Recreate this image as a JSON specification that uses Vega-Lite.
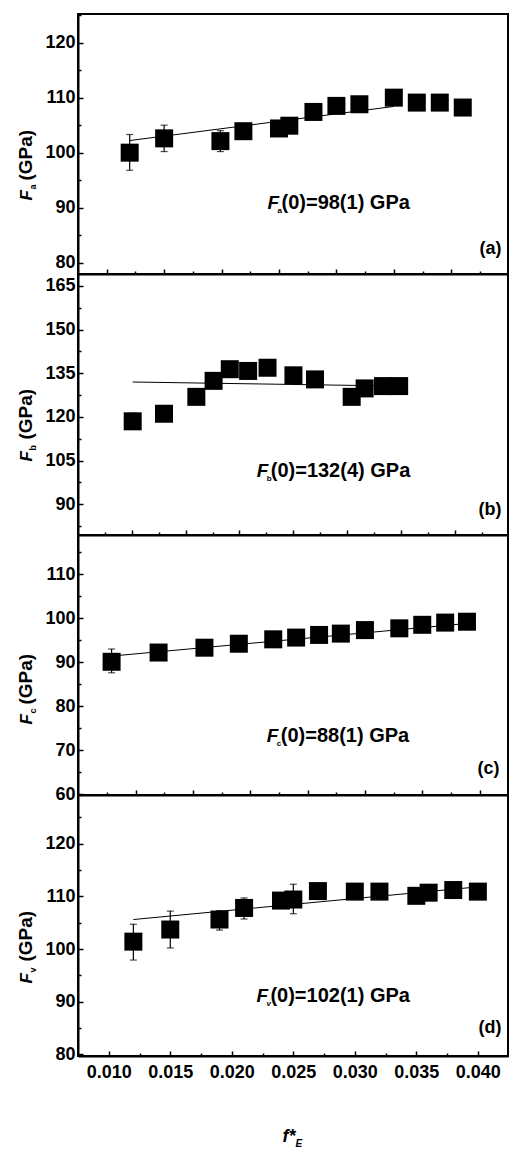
{
  "$schema": "https://vega.github.io/schema/vega-lite/v6.json",
  "padding": {"left": 15, "top": 13, "right": 0, "bottom": 0},
  "config": {
    "view": {"stroke": "black", "strokeWidth": 2},
    "font": "Liberation Sans",
    "axis": {"grid": false, "domainColor": "black", "domainWidth": 2, "tickColor": "black", "tickWidth": 1.5, "labelFont": "Liberation Sans", "labelFontWeight": "bold", "labelFontSize": 18, "labelColor": "black", "titleFont": "Liberation Sans", "titleFontWeight": "bold", "titleColor": "black"}
  },
  "datasets": {
    "pts": [
      {"p": "a", "x": 0.0120, "y": 100.0, "lo": 96.8, "hi": 103.3},
      {"p": "a", "x": 0.0150, "y": 102.6, "lo": 100.2, "hi": 105.0},
      {"p": "a", "x": 0.0199, "y": 102.1, "lo": 100.2, "hi": 104.0},
      {"p": "a", "x": 0.0219, "y": 103.9},
      {"p": "a", "x": 0.0250, "y": 104.4},
      {"p": "a", "x": 0.0259, "y": 104.9},
      {"p": "a", "x": 0.0280, "y": 107.4},
      {"p": "a", "x": 0.0300, "y": 108.5},
      {"p": "a", "x": 0.0320, "y": 108.8},
      {"p": "a", "x": 0.0350, "y": 110.0},
      {"p": "a", "x": 0.0370, "y": 109.1},
      {"p": "a", "x": 0.0390, "y": 109.1},
      {"p": "a", "x": 0.0410, "y": 108.2},
      {"p": "b", "x": 0.0101, "y": 118.5, "lo": 115.7, "hi": 121.3},
      {"p": "b", "x": 0.0130, "y": 121.1},
      {"p": "b", "x": 0.0160, "y": 126.9},
      {"p": "b", "x": 0.0176, "y": 132.4},
      {"p": "b", "x": 0.0191, "y": 136.4},
      {"p": "b", "x": 0.0208, "y": 135.8},
      {"p": "b", "x": 0.0226, "y": 136.9},
      {"p": "b", "x": 0.0250, "y": 134.3},
      {"p": "b", "x": 0.0270, "y": 132.9},
      {"p": "b", "x": 0.0304, "y": 126.9},
      {"p": "b", "x": 0.0316, "y": 129.8},
      {"p": "b", "x": 0.0333, "y": 130.6},
      {"p": "b", "x": 0.0348, "y": 130.6},
      {"p": "c", "x": 0.0079, "y": 90.1, "lo": 87.6, "hi": 93.0},
      {"p": "c", "x": 0.0120, "y": 92.2},
      {"p": "c", "x": 0.0160, "y": 93.3},
      {"p": "c", "x": 0.0190, "y": 94.2},
      {"p": "c", "x": 0.0220, "y": 95.2},
      {"p": "c", "x": 0.0240, "y": 95.6},
      {"p": "c", "x": 0.0260, "y": 96.2},
      {"p": "c", "x": 0.0279, "y": 96.5},
      {"p": "c", "x": 0.0300, "y": 97.3},
      {"p": "c", "x": 0.0330, "y": 97.7},
      {"p": "c", "x": 0.0350, "y": 98.5},
      {"p": "c", "x": 0.0370, "y": 99.0},
      {"p": "c", "x": 0.0389, "y": 99.2},
      {"p": "d", "x": 0.0120, "y": 101.4, "lo": 97.9, "hi": 104.7},
      {"p": "d", "x": 0.0150, "y": 103.7, "lo": 100.2, "hi": 107.2},
      {"p": "d", "x": 0.0190, "y": 105.6, "lo": 103.6, "hi": 107.3},
      {"p": "d", "x": 0.0210, "y": 107.8, "lo": 105.7, "hi": 109.7},
      {"p": "d", "x": 0.0240, "y": 109.2},
      {"p": "d", "x": 0.0250, "y": 109.4, "lo": 106.7, "hi": 112.3},
      {"p": "d", "x": 0.0270, "y": 111.0},
      {"p": "d", "x": 0.0300, "y": 110.9},
      {"p": "d", "x": 0.0320, "y": 110.9},
      {"p": "d", "x": 0.0350, "y": 110.1},
      {"p": "d", "x": 0.0360, "y": 110.7},
      {"p": "d", "x": 0.0380, "y": 111.2},
      {"p": "d", "x": 0.0400, "y": 110.9}
    ],
    "fit": [
      {"p": "a", "x": 0.0120, "y": 102.2},
      {"p": "a", "x": 0.0350, "y": 108.4},
      {"p": "b", "x": 0.0101, "y": 132.0},
      {"p": "b", "x": 0.0348, "y": 130.6},
      {"p": "c", "x": 0.0079, "y": 91.4},
      {"p": "c", "x": 0.0389, "y": 98.8},
      {"p": "d", "x": 0.0120, "y": 105.6},
      {"p": "d", "x": 0.0400, "y": 111.8}
    ],
    "notes": [
      {"p": "a", "sub": "a", "main": "(0)=98(1) GPa", "tag": "(a)"},
      {"p": "b", "sub": "b", "main": "(0)=132(4) GPa", "tag": "(b)"},
      {"p": "c", "sub": "c", "main": "(0)=88(1) GPa", "tag": "(c)"},
      {"p": "d", "sub": "v", "main": "(0)=102(1) GPa", "tag": "(d)"}
    ]
  },
  "spacing": 0,
  "bounds": "flush",
  "vconcat": [
    {
      "width": 430, "height": 260,
      "resolve": {"axis": {"x": "independent", "y": "independent"}},
      "layer": [
        {"data": {"name": "fit"}, "transform": [{"filter": "datum.p == 'a'"}],
         "mark": {"type": "line", "color": "black", "strokeWidth": 1},
         "encoding": {"x": {"field": "x", "type": "quantitative", "axis": null},
           "y": {"field": "y", "type": "quantitative", "axis": {"orient": "left", "title": "F", "titleFontStyle": "italic", "titleFontSize": 17, "titleAngle": 270, "titleAlign": "left", "titleBaseline": "alphabetic", "titleX": -47, "titleY": 186, "labels": false, "ticks": false, "domain": false}}}},
        {"data": {"name": "pts"}, "transform": [{"filter": "datum.p == 'a' && isValid(datum.lo)"}],
         "mark": {"type": "rule", "color": "black", "strokeWidth": 1.2},
         "encoding": {"x": {"field": "x", "type": "quantitative", "axis": null},
           "y": {"field": "lo", "type": "quantitative", "axis": {"orient": "left", "title": "a", "titleFontSize": 9, "titleAngle": 270, "titleAlign": "left", "titleBaseline": "alphabetic", "titleX": -43, "titleY": 175, "labels": false, "ticks": false, "domain": false}},
           "y2": {"field": "hi"}}},
        {"data": {"name": "pts"}, "transform": [{"filter": "datum.p == 'a' && isValid(datum.lo)"}],
         "mark": {"type": "tick", "orient": "horizontal", "color": "black", "size": 7, "thickness": 1.2},
         "encoding": {"x": {"field": "x", "type": "quantitative", "axis": null}, "y": {"field": "hi", "type": "quantitative", "axis": null}}},
        {"data": {"name": "pts"}, "transform": [{"filter": "datum.p == 'a' && isValid(datum.lo)"}],
         "mark": {"type": "tick", "orient": "horizontal", "color": "black", "size": 7, "thickness": 1.2},
         "encoding": {"x": {"field": "x", "type": "quantitative", "axis": null}, "y": {"field": "lo", "type": "quantitative", "axis": null}}},
        {"data": {"name": "pts"}, "transform": [{"filter": "datum.p == 'a'"}],
         "mark": {"type": "point", "shape": "square", "filled": true, "color": "black", "size": 324, "opacity": 1},
         "encoding": {
           "x": {"field": "x", "type": "quantitative", "scale": {"domain": [0.0075, 0.04494], "nice": false, "zero": false},
             "axis": {"orient": "bottom", "title": null, "labels": false, "values": [0.01,0.0125,0.015,0.0175,0.02,0.0225,0.025,0.0275,0.03,0.0325,0.035,0.0375,0.04,0.0425],
               "tickSize": {"condition": {"test": "abs(datum.value*200 - round(datum.value*200)) < 0.01", "value": -5}, "value": -3}}},
           "y": {"field": "y", "type": "quantitative", "scale": {"domain": [77.95, 125.2], "nice": false, "zero": false},
             "axis": {"orient": "left", "values": [80,85,90,95,100,105,110,115,120,125], "labelExpr": "datum.value % 10 == 0 ? datum.label : ''",
               "tickSize": {"condition": {"test": "datum.value % 10 == 0", "value": -5}, "value": -3}, "labelPadding": 8,
               "title": "(GPa)", "titleFontSize": 19, "titleAngle": 270, "titleAlign": "left", "titleBaseline": "alphabetic", "titleX": -47, "titleY": 166}}}},
        {"data": {"name": "notes"}, "transform": [{"filter": "datum.p == 'a'"}],
         "mark": {"type": "text", "align": "left", "baseline": "alphabetic", "fontSize": 19, "fontWeight": "bold", "fontStyle": "italic", "color": "black"},
         "encoding": {"x": {"datum": 0.0240, "type": "quantitative", "axis": null}, "y": {"datum": 89.7, "type": "quantitative", "axis": null}, "text": {"value": "F"}}},
        {"data": {"name": "notes"}, "transform": [{"filter": "datum.p == 'a'"}],
         "mark": {"type": "text", "align": "left", "baseline": "alphabetic", "fontSize": 8, "fontWeight": "bold", "dx": 10, "dy": 4, "color": "black"},
         "encoding": {"x": {"datum": 0.0240, "type": "quantitative", "axis": null}, "y": {"datum": 89.7, "type": "quantitative", "axis": null}, "text": {"field": "sub"}}},
        {"data": {"name": "notes"}, "transform": [{"filter": "datum.p == 'a'"}],
         "mark": {"type": "text", "align": "left", "baseline": "alphabetic", "fontSize": 20, "fontWeight": "bold", "dx": 14, "color": "black"},
         "encoding": {"x": {"datum": 0.0240, "type": "quantitative", "axis": null}, "y": {"datum": 89.7, "type": "quantitative", "axis": null}, "text": {"field": "main"}}},
        {"data": {"name": "notes"}, "transform": [{"filter": "datum.p == 'a'"}],
         "mark": {"type": "text", "align": "right", "baseline": "middle", "fontSize": 18, "fontWeight": "bold", "color": "black"},
         "encoding": {"x": {"datum": 0.04437, "type": "quantitative", "axis": null}, "y": {"datum": 82.5, "type": "quantitative", "axis": null}, "text": {"field": "tag"}}}
      ]
    },
    {
      "width": 430, "height": 261,
      "resolve": {"axis": {"x": "independent", "y": "independent"}},
      "layer": [
        {"data": {"name": "fit"}, "transform": [{"filter": "datum.p == 'b'"}],
         "mark": {"type": "line", "color": "black", "strokeWidth": 1},
         "encoding": {"x": {"field": "x", "type": "quantitative", "axis": null},
           "y": {"field": "y", "type": "quantitative", "axis": {"orient": "left", "title": "F", "titleFontStyle": "italic", "titleFontSize": 17, "titleAngle": 270, "titleAlign": "left", "titleBaseline": "alphabetic", "titleX": -47, "titleY": 187, "labels": false, "ticks": false, "domain": false}}}},
        {"data": {"name": "pts"}, "transform": [{"filter": "datum.p == 'b' && isValid(datum.lo)"}],
         "mark": {"type": "rule", "color": "black", "strokeWidth": 1.2},
         "encoding": {"x": {"field": "x", "type": "quantitative", "axis": null},
           "y": {"field": "lo", "type": "quantitative", "axis": {"orient": "left", "title": "b", "titleFontSize": 9, "titleAngle": 270, "titleAlign": "left", "titleBaseline": "alphabetic", "titleX": -43, "titleY": 176, "labels": false, "ticks": false, "domain": false}},
           "y2": {"field": "hi"}}},
        {"data": {"name": "pts"}, "transform": [{"filter": "datum.p == 'b' && isValid(datum.lo)"}],
         "mark": {"type": "tick", "orient": "horizontal", "color": "black", "size": 7, "thickness": 1.2},
         "encoding": {"x": {"field": "x", "type": "quantitative", "axis": null}, "y": {"field": "hi", "type": "quantitative", "axis": null}}},
        {"data": {"name": "pts"}, "transform": [{"filter": "datum.p == 'b' && isValid(datum.lo)"}],
         "mark": {"type": "tick", "orient": "horizontal", "color": "black", "size": 7, "thickness": 1.2},
         "encoding": {"x": {"field": "x", "type": "quantitative", "axis": null}, "y": {"field": "lo", "type": "quantitative", "axis": null}}},
        {"data": {"name": "pts"}, "transform": [{"filter": "datum.p == 'b'"}],
         "mark": {"type": "point", "shape": "square", "filled": true, "color": "black", "size": 324, "opacity": 1},
         "encoding": {
           "x": {"field": "x", "type": "quantitative", "scale": {"domain": [0.00503, 0.04489], "nice": false, "zero": false},
             "axis": {"orient": "bottom", "title": null, "labels": false, "values": [0.0075,0.01,0.0125,0.015,0.0175,0.02,0.0225,0.025,0.0275,0.03,0.0325,0.035,0.0375,0.04,0.0425],
               "tickSize": {"condition": {"test": "abs(datum.value*200 - round(datum.value*200)) < 0.01", "value": -5}, "value": -3}}},
           "y": {"field": "y", "type": "quantitative", "scale": {"domain": [79.45, 169.1], "nice": false, "zero": false},
             "axis": {"orient": "left", "values": [82.5,90,97.5,105,112.5,120,127.5,135,142.5,150,157.5,165], "labelExpr": "datum.value % 15 == 0 ? datum.label : ''",
               "tickSize": {"condition": {"test": "datum.value % 15 == 0", "value": -5}, "value": -3}, "labelPadding": 8,
               "title": "(GPa)", "titleFontSize": 19, "titleAngle": 270, "titleAlign": "left", "titleBaseline": "alphabetic", "titleX": -47, "titleY": 165}}}},
        {"data": {"name": "notes"}, "transform": [{"filter": "datum.p == 'b'"}],
         "mark": {"type": "text", "align": "left", "baseline": "alphabetic", "fontSize": 19, "fontWeight": "bold", "fontStyle": "italic", "color": "black"},
         "encoding": {"x": {"datum": 0.0216, "type": "quantitative", "axis": null}, "y": {"datum": 99.4, "type": "quantitative", "axis": null}, "text": {"value": "F"}}},
        {"data": {"name": "notes"}, "transform": [{"filter": "datum.p == 'b'"}],
         "mark": {"type": "text", "align": "left", "baseline": "alphabetic", "fontSize": 8, "fontWeight": "bold", "dx": 10, "dy": 4, "color": "black"},
         "encoding": {"x": {"datum": 0.0216, "type": "quantitative", "axis": null}, "y": {"datum": 99.4, "type": "quantitative", "axis": null}, "text": {"field": "sub"}}},
        {"data": {"name": "notes"}, "transform": [{"filter": "datum.p == 'b'"}],
         "mark": {"type": "text", "align": "left", "baseline": "alphabetic", "fontSize": 20, "fontWeight": "bold", "dx": 14, "color": "black"},
         "encoding": {"x": {"datum": 0.0216, "type": "quantitative", "axis": null}, "y": {"datum": 99.4, "type": "quantitative", "axis": null}, "text": {"field": "main"}}},
        {"data": {"name": "notes"}, "transform": [{"filter": "datum.p == 'b'"}],
         "mark": {"type": "text", "align": "right", "baseline": "middle", "fontSize": 18, "fontWeight": "bold", "color": "black"},
         "encoding": {"x": {"datum": 0.04429, "type": "quantitative", "axis": null}, "y": {"datum": 88.0, "type": "quantitative", "axis": null}, "text": {"field": "tag"}}}
      ]
    },
    {
      "width": 430, "height": 260,
      "resolve": {"axis": {"x": "independent", "y": "independent"}},
      "layer": [
        {"data": {"name": "fit"}, "transform": [{"filter": "datum.p == 'c'"}],
         "mark": {"type": "line", "color": "black", "strokeWidth": 1},
         "encoding": {"x": {"field": "x", "type": "quantitative", "axis": null},
           "y": {"field": "y", "type": "quantitative", "axis": {"orient": "left", "title": "F", "titleFontStyle": "italic", "titleFontSize": 17, "titleAngle": 270, "titleAlign": "left", "titleBaseline": "alphabetic", "titleX": -47, "titleY": 189, "labels": false, "ticks": false, "domain": false}}}},
        {"data": {"name": "pts"}, "transform": [{"filter": "datum.p == 'c' && isValid(datum.lo)"}],
         "mark": {"type": "rule", "color": "black", "strokeWidth": 1.2},
         "encoding": {"x": {"field": "x", "type": "quantitative", "axis": null},
           "y": {"field": "lo", "type": "quantitative", "axis": {"orient": "left", "title": "c", "titleFontSize": 9, "titleAngle": 270, "titleAlign": "left", "titleBaseline": "alphabetic", "titleX": -43, "titleY": 178, "labels": false, "ticks": false, "domain": false}},
           "y2": {"field": "hi"}}},
        {"data": {"name": "pts"}, "transform": [{"filter": "datum.p == 'c' && isValid(datum.lo)"}],
         "mark": {"type": "tick", "orient": "horizontal", "color": "black", "size": 7, "thickness": 1.2},
         "encoding": {"x": {"field": "x", "type": "quantitative", "axis": null}, "y": {"field": "hi", "type": "quantitative", "axis": null}}},
        {"data": {"name": "pts"}, "transform": [{"filter": "datum.p == 'c' && isValid(datum.lo)"}],
         "mark": {"type": "tick", "orient": "horizontal", "color": "black", "size": 7, "thickness": 1.2},
         "encoding": {"x": {"field": "x", "type": "quantitative", "axis": null}, "y": {"field": "lo", "type": "quantitative", "axis": null}}},
        {"data": {"name": "pts"}, "transform": [{"filter": "datum.p == 'c'"}],
         "mark": {"type": "point", "shape": "square", "filled": true, "color": "black", "size": 324, "opacity": 1},
         "encoding": {
           "x": {"field": "x", "type": "quantitative", "scale": {"domain": [0.00497, 0.04248], "nice": false, "zero": false},
             "axis": {"orient": "bottom", "title": null, "labels": false, "values": [0.0075,0.01,0.0125,0.015,0.0175,0.02,0.0225,0.025,0.0275,0.03,0.0325,0.035,0.0375,0.04],
               "tickSize": {"condition": {"test": "abs(datum.value*200 - round(datum.value*200)) < 0.01", "value": -5}, "value": -3}}},
           "y": {"field": "y", "type": "quantitative", "scale": {"domain": [59.84, 118.9], "nice": false, "zero": false},
             "axis": {"orient": "left", "values": [60,65,70,75,80,85,90,95,100,105,110,115], "labelExpr": "datum.value % 10 == 0 ? datum.label : ''",
               "tickSize": {"condition": {"test": "datum.value % 10 == 0", "value": -5}, "value": -3}, "labelPadding": 8,
               "title": "(GPa)", "titleFontSize": 19, "titleAngle": 270, "titleAlign": "left", "titleBaseline": "alphabetic", "titleX": -47, "titleY": 169}}}},
        {"data": {"name": "notes"}, "transform": [{"filter": "datum.p == 'c'"}],
         "mark": {"type": "text", "align": "left", "baseline": "alphabetic", "fontSize": 19, "fontWeight": "bold", "fontStyle": "italic", "color": "black"},
         "encoding": {"x": {"datum": 0.02144, "type": "quantitative", "axis": null}, "y": {"datum": 71.85, "type": "quantitative", "axis": null}, "text": {"value": "F"}}},
        {"data": {"name": "notes"}, "transform": [{"filter": "datum.p == 'c'"}],
         "mark": {"type": "text", "align": "left", "baseline": "alphabetic", "fontSize": 8, "fontWeight": "bold", "dx": 10, "dy": 4, "color": "black"},
         "encoding": {"x": {"datum": 0.02144, "type": "quantitative", "axis": null}, "y": {"datum": 71.85, "type": "quantitative", "axis": null}, "text": {"field": "sub"}}},
        {"data": {"name": "notes"}, "transform": [{"filter": "datum.p == 'c'"}],
         "mark": {"type": "text", "align": "left", "baseline": "alphabetic", "fontSize": 20, "fontWeight": "bold", "dx": 14, "color": "black"},
         "encoding": {"x": {"datum": 0.02144, "type": "quantitative", "axis": null}, "y": {"datum": 71.85, "type": "quantitative", "axis": null}, "text": {"field": "main"}}},
        {"data": {"name": "notes"}, "transform": [{"filter": "datum.p == 'c'"}],
         "mark": {"type": "text", "align": "right", "baseline": "middle", "fontSize": 18, "fontWeight": "bold", "color": "black"},
         "encoding": {"x": {"datum": 0.04174, "type": "quantitative", "axis": null}, "y": {"datum": 65.75, "type": "quantitative", "axis": null}, "text": {"field": "tag"}}}
      ]
    },
    {
      "width": 430, "height": 261,
      "resolve": {"axis": {"x": "independent", "y": "independent"}},
      "layer": [
        {"data": {"name": "fit"}, "transform": [{"filter": "datum.p == 'd'"}],
         "mark": {"type": "line", "color": "black", "strokeWidth": 1},
         "encoding": {"x": {"field": "x", "type": "quantitative", "axis": {"orient": "bottom", "title": "f*", "titleFontStyle": "italic", "titleFontSize": 18, "titleAlign": "left", "titleBaseline": "alphabetic", "titleX": 204, "titleY": 85, "labels": false, "ticks": false, "domain": false}},
           "y": {"field": "y", "type": "quantitative", "axis": {"orient": "left", "title": "F", "titleFontStyle": "italic", "titleFontSize": 17, "titleAngle": 270, "titleAlign": "left", "titleBaseline": "alphabetic", "titleX": -47, "titleY": 188, "labels": false, "ticks": false, "domain": false}}}},
        {"data": {"name": "pts"}, "transform": [{"filter": "datum.p == 'd' && isValid(datum.lo)"}],
         "mark": {"type": "rule", "color": "black", "strokeWidth": 1.2},
         "encoding": {"x": {"field": "x", "type": "quantitative", "axis": {"orient": "bottom", "title": "E", "titleFontStyle": "italic", "titleFontSize": 10, "titleAlign": "left", "titleBaseline": "alphabetic", "titleX": 217, "titleY": 90, "labels": false, "ticks": false, "domain": false}},
           "y": {"field": "lo", "type": "quantitative", "axis": {"orient": "left", "title": "v", "titleFontSize": 9, "titleAngle": 270, "titleAlign": "left", "titleBaseline": "alphabetic", "titleX": -43, "titleY": 177, "labels": false, "ticks": false, "domain": false}},
           "y2": {"field": "hi"}}},
        {"data": {"name": "pts"}, "transform": [{"filter": "datum.p == 'd' && isValid(datum.lo)"}],
         "mark": {"type": "tick", "orient": "horizontal", "color": "black", "size": 7, "thickness": 1.2},
         "encoding": {"x": {"field": "x", "type": "quantitative", "axis": null}, "y": {"field": "hi", "type": "quantitative", "axis": null}}},
        {"data": {"name": "pts"}, "transform": [{"filter": "datum.p == 'd' && isValid(datum.lo)"}],
         "mark": {"type": "tick", "orient": "horizontal", "color": "black", "size": 7, "thickness": 1.2},
         "encoding": {"x": {"field": "x", "type": "quantitative", "axis": null}, "y": {"field": "lo", "type": "quantitative", "axis": null}}},
        {"data": {"name": "pts"}, "transform": [{"filter": "datum.p == 'd'"}],
         "mark": {"type": "point", "shape": "square", "filled": true, "color": "black", "size": 324, "opacity": 1},
         "encoding": {
           "x": {"field": "x", "type": "quantitative", "scale": {"domain": [0.0075, 0.04245], "nice": false, "zero": false},
             "axis": {"orient": "bottom", "title": null, "values": [0.01,0.0125,0.015,0.0175,0.02,0.0225,0.025,0.0275,0.03,0.0325,0.035,0.0375,0.04],
               "labelExpr": "abs(datum.value*200 - round(datum.value*200)) < 0.01 ? format(datum.value, '.3f') : ''", "labelPadding": 12,
               "tickSize": {"condition": {"test": "abs(datum.value*200 - round(datum.value*200)) < 0.01", "value": -5}, "value": -3}}},
           "y": {"field": "y", "type": "quantitative", "scale": {"domain": [79.68, 129.25], "nice": false, "zero": false},
             "axis": {"orient": "left", "values": [80,85,90,95,100,105,110,115,120,125], "labelExpr": "datum.value % 10 == 0 ? datum.label : ''",
               "tickSize": {"condition": {"test": "datum.value % 10 == 0", "value": -5}, "value": -3}, "labelPadding": 8,
               "title": "(GPa)", "titleFontSize": 19, "titleAngle": 270, "titleAlign": "left", "titleBaseline": "alphabetic", "titleX": -47, "titleY": 166}}}},
        {"data": {"name": "notes"}, "transform": [{"filter": "datum.p == 'd'"}],
         "mark": {"type": "text", "align": "left", "baseline": "alphabetic", "fontSize": 19, "fontWeight": "bold", "fontStyle": "italic", "color": "black"},
         "encoding": {"x": {"datum": 0.0220, "type": "quantitative", "axis": null}, "y": {"datum": 89.93, "type": "quantitative", "axis": null}, "text": {"value": "F"}}},
        {"data": {"name": "notes"}, "transform": [{"filter": "datum.p == 'd'"}],
         "mark": {"type": "text", "align": "left", "baseline": "alphabetic", "fontSize": 8, "fontWeight": "bold", "fontStyle": "italic", "dx": 10, "dy": 4, "color": "black"},
         "encoding": {"x": {"datum": 0.0220, "type": "quantitative", "axis": null}, "y": {"datum": 89.93, "type": "quantitative", "axis": null}, "text": {"field": "sub"}}},
        {"data": {"name": "notes"}, "transform": [{"filter": "datum.p == 'd'"}],
         "mark": {"type": "text", "align": "left", "baseline": "alphabetic", "fontSize": 20, "fontWeight": "bold", "dx": 14, "color": "black"},
         "encoding": {"x": {"datum": 0.0220, "type": "quantitative", "axis": null}, "y": {"datum": 89.93, "type": "quantitative", "axis": null}, "text": {"field": "main"}}},
        {"data": {"name": "notes"}, "transform": [{"filter": "datum.p == 'd'"}],
         "mark": {"type": "text", "align": "right", "baseline": "middle", "fontSize": 18, "fontWeight": "bold", "color": "black"},
         "encoding": {"x": {"datum": 0.04193, "type": "quantitative", "axis": null}, "y": {"datum": 85.0, "type": "quantitative", "axis": null}, "text": {"field": "tag"}}}
      ]
    }
  ]
}
